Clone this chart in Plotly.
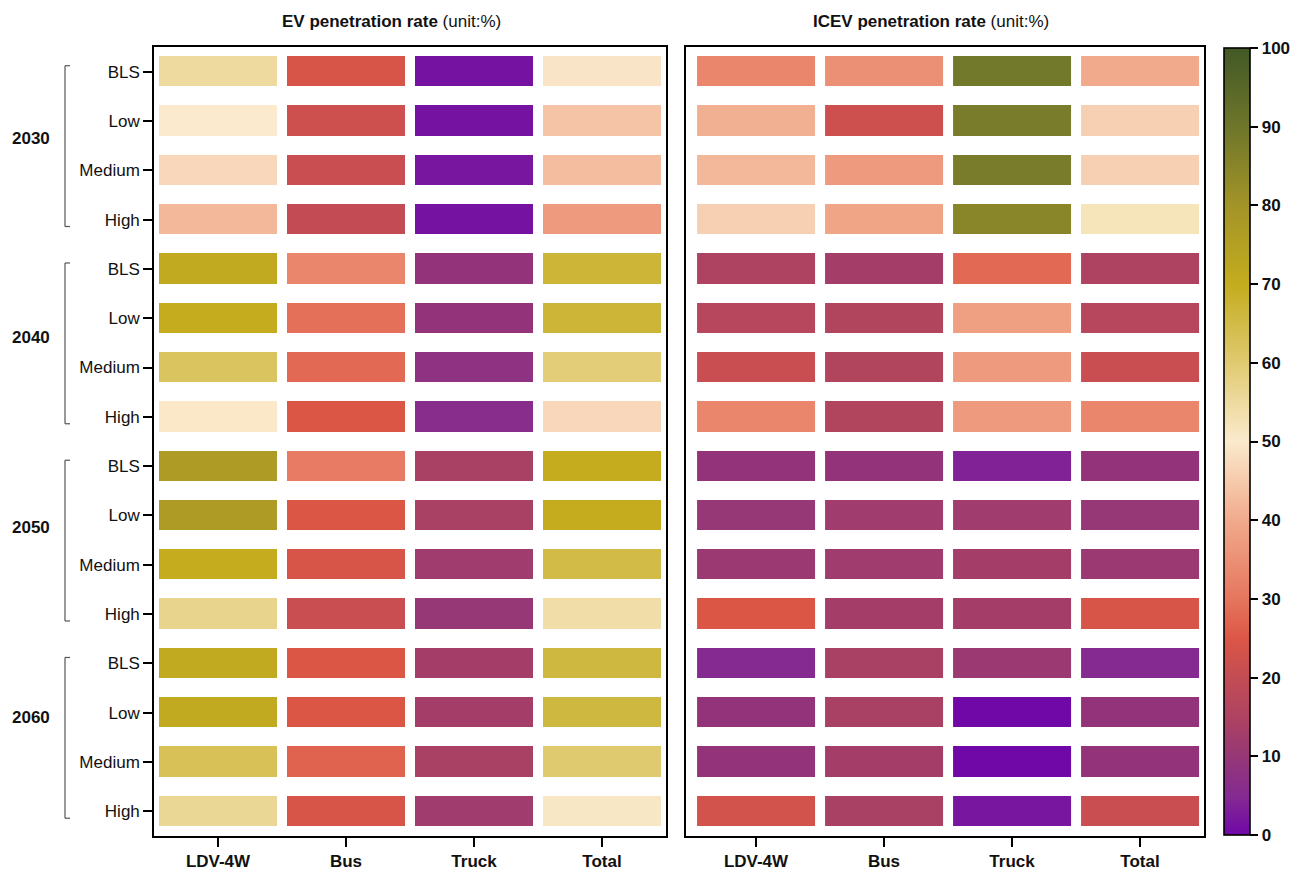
import plotly.graph_objects as go

# ---- data -------------------------------------------------------------
years = ["2030", "2040", "2050", "2060"]
scenarios = ["BLS", "Low", "Medium", "High"]
vehicle_types = ["LDV-4W", "Bus", "Truck", "Total"]

# rows: year x scenario (top to bottom), columns: vehicle types
ev_rate = [
    [55, 24, 1.5, 49],
    [50, 22, 1.5, 44],
    [47, 21, 2, 43],
    [42, 20, 1.5, 37],
    [71, 33, 9, 67],
    [70, 29, 9, 67],
    [62, 28, 8, 59],
    [50.5, 25, 6, 47],
    [77, 31, 14, 70],
    [77, 25, 14, 70],
    [70, 24, 12, 65],
    [57, 21, 10, 54],
    [71, 25, 13, 66],
    [71, 25, 13, 66],
    [63, 27, 14, 60],
    [56, 24, 12, 51],
]

icev_rate = [
    [33, 35, 89, 40],
    [41, 22, 88, 46],
    [42, 37, 88, 46],
    [46, 39, 85, 52],
    [15, 13, 28, 15],
    [17, 16, 38, 17],
    [21, 16, 37, 21],
    [33, 16, 37, 33],
    [9, 9, 4, 9],
    [10, 12, 12, 10],
    [11, 12, 13, 11],
    [25, 13, 13, 24],
    [5, 14, 11, 5],
    [9, 14, 0, 9],
    [9, 13, 0, 9],
    [23, 14, 2, 21],
]

colorbar_ticks = [0, 10, 20, 30, 40, 50, 60, 70, 80, 90, 100]

# ---- colour scale: purple -> red -> cream -> olive -> dark green -----
colorscale = [
    [0.00, "rgb(112,8,168)"],
    [0.05, "rgb(133,42,145)"],
    [0.10, "rgb(150,55,118)"],
    [0.15, "rgb(174,67,97)"],
    [0.20, "rgb(195,76,84)"],
    [0.25, "rgb(220,86,70)"],
    [0.30, "rgb(230,118,94)"],
    [0.40, "rgb(241,170,140)"],
    [0.50, "rgb(251,234,205)"],
    [0.60, "rgb(224,202,112)"],
    [0.70, "rgb(196,172,30)"],
    [0.80, "rgb(163,148,40)"],
    [0.90, "rgb(110,118,42)"],
    [1.00, "rgb(66,88,38)"],
]

n_rows = len(years) * len(scenarios)
row_idx = list(range(n_rows))
col_idx = list(range(len(vehicle_types)))
row_labels = [s for _ in years for s in scenarios]

W, H = 1293, 870
FONT = "Liberation Sans, Arial, sans-serif"
FS = 17

fig = go.Figure()
fig.add_trace(go.Heatmap(z=ev_rate, x=col_idx, y=row_idx, coloraxis="coloraxis",
                         xgap=10, ygap=19, xaxis="x", yaxis="y",
                         hovertemplate="%{z}%<extra>EV</extra>"))
fig.add_trace(go.Heatmap(z=icev_rate, x=col_idx, y=row_idx, coloraxis="coloraxis",
                         xgap=10, ygap=19, xaxis="x2", yaxis="y2",
                         hovertemplate="%{z}%<extra>ICEV</extra>"))

px = lambda v: v / W
py = lambda v: 1 - v / H

axis_common = dict(showline=True, linecolor="black", linewidth=1.6, mirror=True,
                   showgrid=False, zeroline=False)

x_common = dict(axis_common, tickvals=col_idx,
                ticktext=[f"<b>{v}</b>" for v in vehicle_types],
                ticks="outside", ticklen=9, tickwidth=1.5, tickcolor="black",
                tickfont=dict(size=FS, color="#111", family=FONT))
y_range = [n_rows - 0.5, -0.5]

fig.update_layout(
    width=W, height=H,
    margin=dict(l=0, r=0, t=0, b=0, autoexpand=False),
    paper_bgcolor="white", plot_bgcolor="white",
    font=dict(family=FONT, color="#111"),
    xaxis=dict(x_common, domain=[px(154), px(666)], range=[-0.5, 3.5], anchor="y"),
    yaxis=dict(axis_common, domain=[py(836), py(47)], range=y_range, anchor="x",
               tickvals=row_idx, ticktext=row_labels, ticks="outside",
               ticklen=9, tickwidth=1.5, tickcolor="black",
               tickfont=dict(size=FS, color="#111", family=FONT)),
    xaxis2=dict(x_common, domain=[px(686), px(1204)], range=[-0.547, 3.5], anchor="y2"),
    yaxis2=dict(axis_common, domain=[py(836), py(47)], range=y_range, anchor="x2",
                showticklabels=False, ticks=""),
    coloraxis=dict(
        colorscale=colorscale, cmin=0, cmax=100,
        colorbar=dict(
            x=px(1224), xanchor="left", xref="paper", xpad=0, ypad=0,
            y=py(441.5), yanchor="middle", len=787 / H, lenmode="fraction",
            thickness=26, outlinewidth=1.6, outlinecolor="black",
            tickvals=colorbar_ticks,
            ticktext=[f"<b>{t}</b>" for t in colorbar_ticks],
            ticks="outside", ticklen=8, tickwidth=1.5, tickcolor="black",
            tickfont=dict(size=FS, color="#111", family=FONT),
        ),
    ),
)

# panel titles
fig.add_annotation(text="<b>EV penetration rate</b> (unit:%)", x=px(391), y=py(21),
                   xref="paper", yref="paper", xanchor="center", yanchor="middle",
                   showarrow=False, font=dict(size=FS, color="#111", family=FONT))
fig.add_annotation(text="<b>ICEV penetration rate</b> (unit:%)", x=px(931), y=py(21),
                   xref="paper", yref="paper", xanchor="center", yanchor="middle",
                   showarrow=False, font=dict(size=FS, color="#111", family=FONT))

# year brackets and labels
label_offsets = [1.35, 1.4, 1.25, 1.1]
n_sc = len(scenarios)
for g, yr in enumerate(years):
    top = g * n_sc - 0.12
    bot = g * n_sc + n_sc - 1 + 0.14
    bx, tx = px(65), px(70)
    line = dict(color="#555", width=1.2)
    fig.add_shape(type="line", xref="paper", yref="y", x0=bx, x1=bx, y0=top, y1=bot, line=line)
    fig.add_shape(type="line", xref="paper", yref="y", x0=bx, x1=tx, y0=top, y1=top, line=line)
    fig.add_shape(type="line", xref="paper", yref="y", x0=bx, x1=tx, y0=bot, y1=bot, line=line)
    fig.add_annotation(text=f"<b>{yr}</b>", xref="paper", yref="y", x=px(31),
                       xanchor="center", y=g * n_sc + label_offsets[g], showarrow=False,
                       font=dict(size=FS, color="#111", family=FONT))

fig.write_html("out.html")
